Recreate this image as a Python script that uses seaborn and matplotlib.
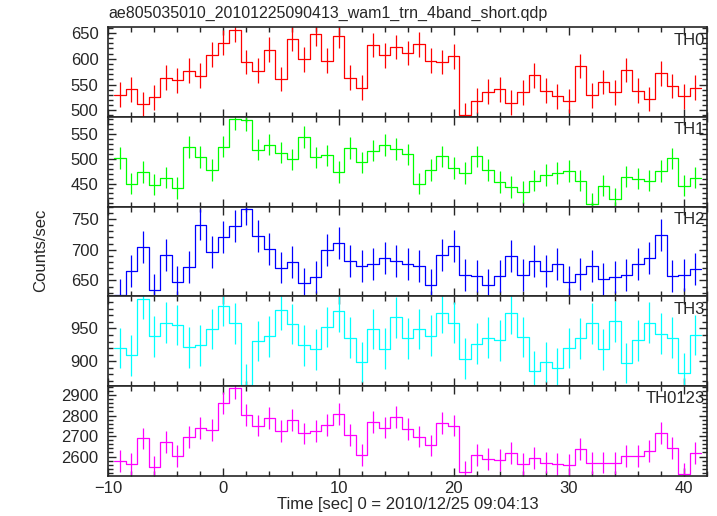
import numpy as np
import matplotlib
matplotlib.use('Agg')
import matplotlib.pyplot as plt
import seaborn as sns
from matplotlib.ticker import MultipleLocator

# time bins (bin centres, 1 s wide)
time_sec = np.arange(-9, 42)

th0 = [530, 541, 512, 525, 563, 558, 577, 567, 608, 631, 656, 594, 577, 618, 561, 639, 599,
       648, 596, 645, 563, 544, 627, 607, 623, 611, 628, 596, 594, 605, 490, 519, 536, 541,
       515, 535, 568, 538, 527, 518, 586, 529, 555, 535, 578, 538, 522, 572, 547, 527, 544]
th1 = [502, 450, 474, 448, 462, 441, 524, 504, 477, 525, 580, 578, 519, 529, 513, 499, 544,
       503, 507, 474, 522, 493, 517, 528, 520, 509, 450, 477, 505, 482, 472, 505, 477, 453,
       443, 433, 456, 468, 472, 475, 456, 408, 446, 418, 464, 460, 456, 475, 501, 446, 462]
th2 = [627, 665, 705, 635, 691, 648, 672, 741, 696, 720, 738, 766, 723, 701, 671, 680, 645,
       656, 699, 711, 682, 674, 677, 687, 681, 677, 673, 643, 691, 706, 659, 657, 642, 657,
       689, 659, 682, 665, 677, 648, 660, 674, 653, 656, 659, 676, 687, 724, 657, 659, 669]
th3 = [920, 909, 995, 938, 959, 955, 921, 924, 949, 985, 958, 864, 931, 938, 978, 957, 924,
       918, 952, 976, 936, 899, 949, 919, 967, 935, 949, 939, 974, 959, 904, 927, 936, 932,
       973, 937, 885, 899, 889, 920, 935, 958, 918, 961, 897, 932, 959, 942, 936, 882, 940]
th0123 = [2577, 2564, 2688, 2549, 2670, 2603, 2695, 2739, 2731, 2863, 2936, 2803, 2751, 2789,
          2726, 2777, 2713, 2726, 2754, 2808, 2705, 2609, 2770, 2741, 2792, 2735, 2697, 2654,
          2764, 2751, 2526, 2609, 2588, 2582, 2618, 2562, 2593, 2570, 2564, 2559, 2637, 2567,
          2570, 2567, 2602, 2604, 2628, 2715, 2642, 2513, 2616]

band_names = ['TH0', 'TH1', 'TH2', 'TH3', 'TH0123']
band_errors = [24, 22, 26, 31, 53]
band_colors = ['#ff0000', '#00ff00', '#0000ff', '#00ffff', '#ff00ff']
band_ylims = [(487, 661), (403, 585), (624, 770), (862, 999), (2506, 2944)]
band_major = [50, 50, 50, 50, 100]
band_minor = [10, 10, 10, 10, 20]
series = [th0, th1, th2, th3, th0123]

sns.set_style('ticks')
plt.rcParams['font.family'] = ['Liberation Sans', 'DejaVu Sans']
plt.rcParams['axes.linewidth'] = 1.2
plt.rcParams['xtick.direction'] = 'in'
plt.rcParams['ytick.direction'] = 'in'

fig, axes = plt.subplots(5, 1, sharex=True, figsize=(7.17, 5.16), dpi=100)
fig.subplots_adjust(left=0.151, right=0.986, top=0.947, bottom=0.078, hspace=0)

edges = np.append(time_sec - 0.5, time_sec[-1] + 0.5)

for ax, name, vals, err, col, ylim, maj, mnr in zip(axes, band_names, series, band_errors,
                                                    band_colors, band_ylims, band_major, band_minor):
    steps = np.append(vals, vals[-1])
    sns.lineplot(x=edges, y=steps, drawstyle='steps-post', color=col, lw=0.9,
                 estimator=None, ax=ax)
    ax.errorbar(time_sec, vals, yerr=err, fmt='none', ecolor=col, elinewidth=0.9)
    ax.set_ylim(*ylim)
    ax.yaxis.set_major_locator(MultipleLocator(maj))
    ax.yaxis.set_minor_locator(MultipleLocator(mnr))
    ax.xaxis.set_major_locator(MultipleLocator(10))
    ax.xaxis.set_minor_locator(MultipleLocator(2))
    ax.tick_params(which='both', top=True, right=True, direction='in', labelsize=12, width=1)
    ax.tick_params(axis='y', pad=7)
    ax.tick_params(which='major', length=6)
    ax.tick_params(which='minor', length=3.5)
    ax.text(0.997, 0.94, name, transform=ax.transAxes, ha='right', va='top', fontsize=12)

axes[-1].set_xlim(-10, 42)
axes[-1].set_xlabel('Time [sec] 0 = 2010/12/25 09:04:13', fontsize=12, labelpad=1)
fig.text(0.056, 0.515, 'Counts/sec', rotation=90, ha='center', va='center', fontsize=12)
axes[0].set_title('ae805035010_20101225090413_wam1_trn_4band_short.qdp',
                  loc='left', fontsize=11.5, pad=7)

plt.savefig('out.png', dpi=100)
